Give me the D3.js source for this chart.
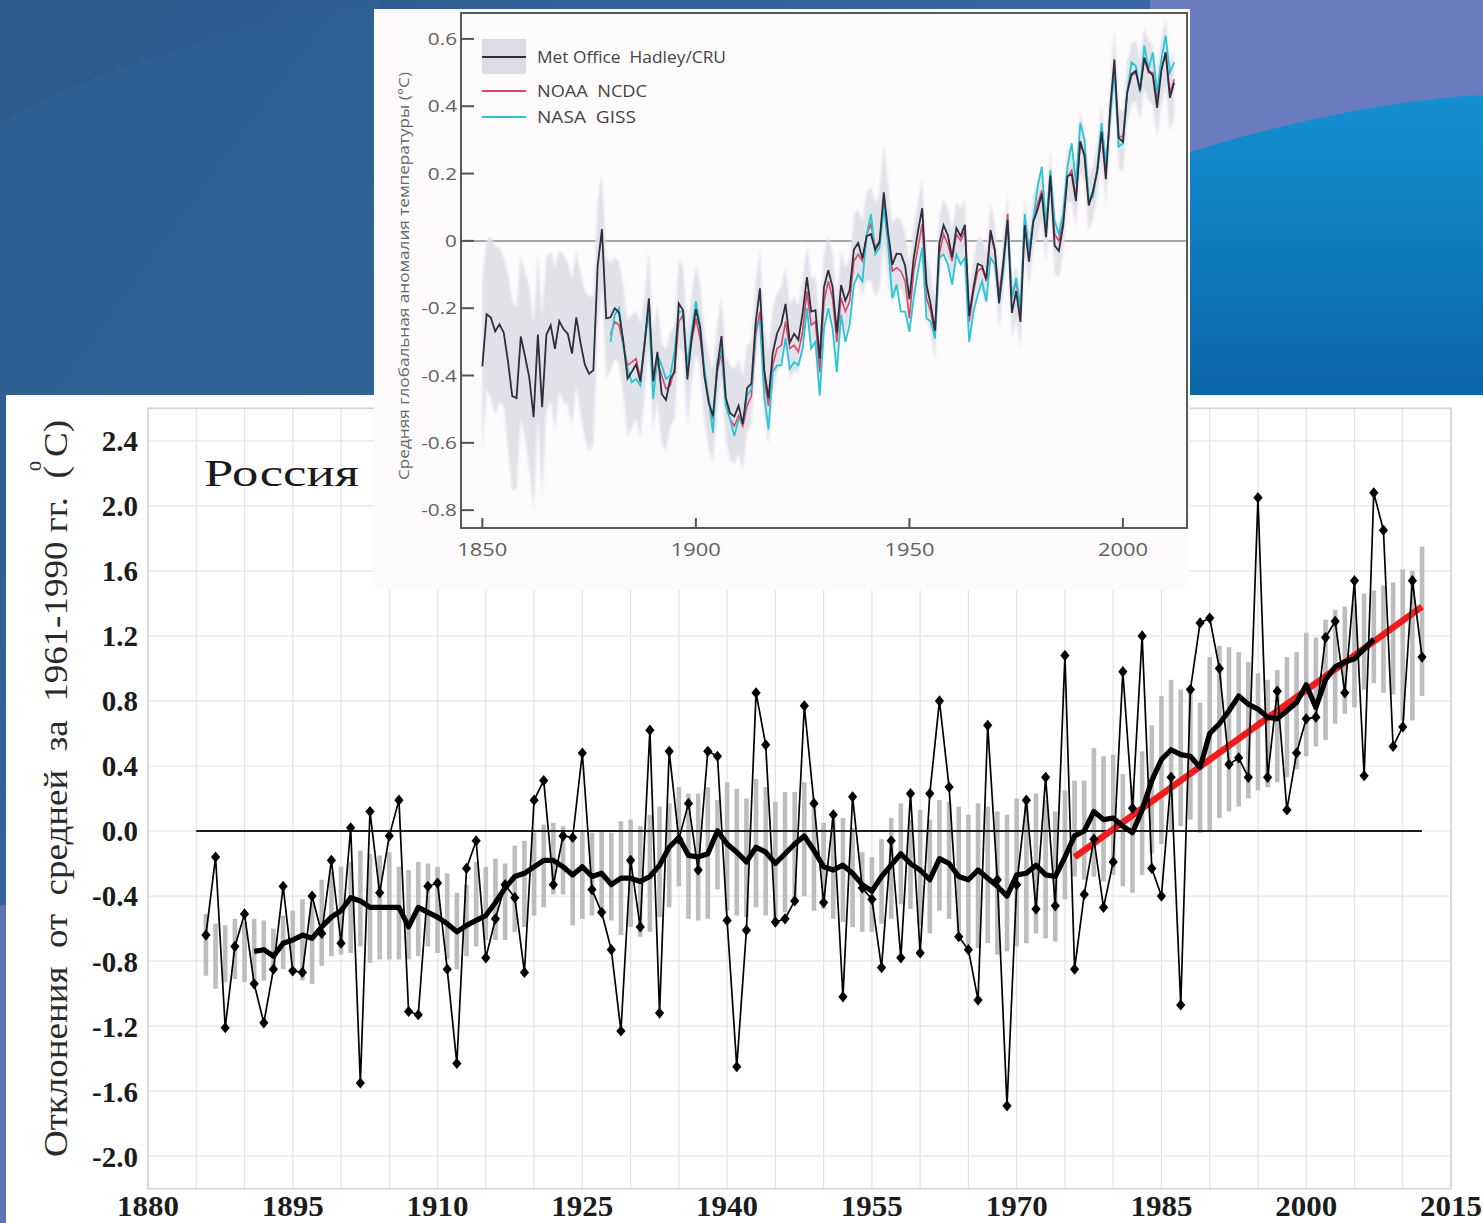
<!DOCTYPE html>
<html><head><meta charset="utf-8">
<script src="https://cdn.jsdelivr.net/npm/d3@7"></script>
<style>body{margin:0;background:#2f5f90;} svg{display:block}</style>
</head><body>
<svg id="chart" width="1483" height="1223"></svg>
<script>
// ---------------- DATA: Russia (main chart) ----------------
const ruStartYear = 1886;
const ruAnnual = [
  -0.64, -0.16, -1.21, -0.71,
  -0.51, -0.94, -1.18, -0.85, -0.34, -0.86, -0.87, -0.40, -0.63, -0.18,
  -0.69, 0.02, -1.55, 0.12, -0.38, -0.03, 0.19, -1.11, -1.13, -0.34,
  -0.32, -0.85, -1.43, -0.23, -0.06, -0.78, -0.54, -0.33, -0.41, -0.87,
  0.19, 0.31, -0.33, -0.03, -0.04, 0.48, -0.36, -0.50, -0.73, -1.23,
  -0.18, -0.59, 0.62, -1.12, 0.49, -0.05, 0.17, -0.24, 0.49, 0.46,
  -0.55, -1.45, -0.61, 0.85, 0.53, -0.56, -0.54, -0.43, 0.77, 0.17,
  -0.44, 0.10, -1.02, 0.21, -0.35, -0.42, -0.84, -0.06, -0.78, 0.23,
  -0.75, 0.23, 0.80, 0.27, -0.65, -0.73, -1.04, 0.65, -0.30, -1.69,
  -0.33, 0.19, -0.48, 0.33, -0.46, 1.08, -0.85, -0.39, -0.05, -0.47,
  -0.19, 0.98, 0.14, 1.20, -0.23, -0.40, 0.33, -1.07, 0.87, 1.28,
  1.31, 1.00, 0.41, 0.45, 0.33, 2.05, 0.33, 0.86, 0.13, 0.48,
  0.69, 0.70, 1.19, 1.29, 0.85, 1.54, 0.34, 2.08, 1.85, 0.52,
  0.64, 1.54, 1.07
];
const ruMeanStart = 1891;
const ruMean = [
  -0.74, -0.73, -0.77, -0.69, -0.67, -0.64, -0.66, -0.59, -0.53,
  -0.49, -0.41, -0.43, -0.47, -0.47, -0.47, -0.47, -0.59, -0.47, -0.50,
  -0.53, -0.57, -0.62, -0.58, -0.55, -0.52, -0.44, -0.35, -0.28, -0.26,
  -0.22, -0.18, -0.18, -0.22, -0.27, -0.22, -0.28, -0.26, -0.33, -0.29,
  -0.29, -0.31, -0.28, -0.21, -0.10, -0.04, -0.15, -0.16, -0.14, 0.00,
  -0.08, -0.13, -0.19, -0.10, -0.13, -0.20, -0.14, -0.08, -0.03, -0.12,
  -0.22, -0.24, -0.21, -0.26, -0.33, -0.37, -0.28, -0.21, -0.14, -0.20,
  -0.24, -0.30, -0.17, -0.20, -0.28, -0.30, -0.24, -0.29, -0.34, -0.40,
  -0.27, -0.26, -0.21, -0.27, -0.28, -0.16, -0.03, 0.00, 0.12, 0.07,
  0.08, 0.03, -0.01, 0.13, 0.31, 0.44, 0.50, 0.47, 0.46, 0.39,
  0.60, 0.66, 0.74, 0.83, 0.78, 0.75, 0.70, 0.69, 0.74, 0.79,
  0.90, 0.76, 0.93, 1.01, 1.04, 1.06, 1.12, 1.18
];
const ruBandTop = [
  -0.51, -0.57, -0.58, -0.54,
  -0.56, -0.54, -0.55, -0.60, -0.52, -0.49, -0.42, -0.44, -0.30, -0.25,
  -0.22, -0.19, -0.12, -0.14, -0.15, -0.13, -0.22, -0.24, -0.19, -0.20,
  -0.22, -0.26, -0.38, -0.33, -0.19, -0.22, -0.17, -0.20, -0.09, -0.06,
  -0.01, 0.04, 0.05, 0.03, -0.05, 0.00, -0.01, 0.00, -0.01, 0.06,
  0.07, 0.03, 0.10, 0.15, 0.17, 0.27, 0.23, 0.23, 0.27, 0.19,
  0.30, 0.26, 0.20, 0.32, 0.27, 0.18, 0.24, 0.24, 0.30, 0.19,
  0.05, 0.07, 0.08, 0.02, -0.13, -0.16, -0.05, 0.08, 0.17, 0.07,
  0.13, 0.07, 0.19, 0.18, 0.15, 0.10, 0.17, 0.15, 0.12, 0.10,
  0.20, 0.21, 0.23, 0.19, 0.12, 0.25, 0.31, 0.31, 0.51, 0.46,
  0.47, 0.35, 0.28, 0.49, 0.65, 0.83, 0.93, 0.87, 0.89, 0.79,
  1.07, 1.14, 1.13, 1.10, 1.04, 0.97, 0.93, 0.99, 1.07, 1.10,
  1.22, 1.19, 1.30, 1.36, 1.38, 1.40, 1.46, 1.48, 1.51, 1.53,
  1.61, 1.60, 1.75
];
const ruBandBottom = [
  -0.89, -0.97, -0.93, -0.91,
  -0.93, -0.93, -0.92, -0.87, -0.85, -0.83, -0.92, -0.94, -0.83, -0.77,
  -0.76, -0.75, -0.71, -0.81, -0.79, -0.79, -0.79, -0.79, -0.77, -0.71,
  -0.75, -0.79, -0.85, -0.77, -0.71, -0.67, -0.67, -0.67, -0.62, -0.59,
  -0.52, -0.47, -0.39, -0.39, -0.58, -0.54, -0.52, -0.52, -0.55, -0.64,
  -0.59, -0.65, -0.62, -0.53, -0.47, -0.34, -0.54, -0.55, -0.54, -0.36,
  -0.49, -0.52, -0.53, -0.47, -0.52, -0.55, -0.50, -0.44, -0.40, -0.49,
  -0.48, -0.54, -0.56, -0.59, -0.62, -0.62, -0.57, -0.54, -0.45, -0.48,
  -0.58, -0.63, -0.49, -0.54, -0.62, -0.70, -0.72, -0.69, -0.76, -0.74,
  -0.71, -0.69, -0.63, -0.66, -0.68, -0.42, -0.28, -0.30, -0.28, -0.31,
  -0.27, -0.34, -0.38, -0.27, -0.14, -0.08, 0.00, 0.03, 0.07, -0.01,
  0.00, 0.08, 0.12, 0.15, 0.20, 0.25, 0.27, 0.30, 0.33, 0.38,
  0.46, 0.52, 0.56, 0.66, 0.72, 0.76, 0.87, 0.91, 0.85, 0.84,
  0.68, 0.68, 0.83
];
const ruTrendYears = [1976, 2012];
const ruTrendValues = [-0.16, 1.38];
const ruZeroLineYears = [1885, 2012];
const ruYTicks = [-2.0, -1.6, -1.2, -0.8, -0.4, 0.0, 0.4, 0.8, 1.2, 1.6, 2.0, 2.4];
const ruXTicks = [1880, 1895, 1910, 1925, 1940, 1955, 1970, 1985, 2000, 2015];
const ruTitle = "Россия";
const ruYLabel = "Отклонения  от  средней  за  1961-1990 гг.  ( C)";

// ---------------- DATA: global inset ----------------
const hadStartYear = 1850;
const hadcrut = [
  -0.373, -0.218, -0.228, -0.269, -0.248, -0.272, -0.358, -0.461, -0.467, -0.284,
  -0.343, -0.407, -0.524, -0.278, -0.494, -0.279, -0.251, -0.321, -0.238, -0.262,
  -0.276, -0.335, -0.227, -0.304, -0.368, -0.395, -0.384, -0.075, 0.035, -0.230,
  -0.227, -0.200, -0.213, -0.296, -0.409, -0.389, -0.367, -0.418, -0.307, -0.171,
  -0.416, -0.330, -0.455, -0.473, -0.410, -0.390, -0.186, -0.206, -0.412, -0.289,
  -0.203, -0.259, -0.402, -0.479, -0.520, -0.377, -0.283, -0.465, -0.511, -0.522,
  -0.490, -0.544, -0.437, -0.424, -0.244, -0.141, -0.383, -0.468, -0.333, -0.275,
  -0.247, -0.187, -0.302, -0.276, -0.294, -0.215, -0.108, -0.210, -0.206, -0.350,
  -0.137, -0.087, -0.137, -0.273, -0.131, -0.178, -0.147, -0.026, -0.006, -0.052,
  0.014, 0.020, -0.027, -0.004, 0.144, 0.025, -0.071, -0.038, -0.039, -0.074,
  -0.173, -0.052, 0.028, 0.097, -0.129, -0.190, -0.267, -0.007, 0.046, 0.017,
  -0.049, 0.038, 0.014, 0.048, -0.223, -0.140, -0.068, -0.074, -0.113, 0.032,
  -0.027, -0.186, -0.065, 0.062, -0.214, -0.149, -0.241, 0.047, -0.062, 0.057,
  0.092, 0.140, 0.011, 0.194, -0.014, -0.030, 0.045, 0.192, 0.198, 0.118,
  0.296, 0.254, 0.105, 0.148, 0.208, 0.325, 0.183, 0.390, 0.539, 0.306,
  0.294, 0.441, 0.496, 0.505, 0.447, 0.545, 0.506, 0.491, 0.395, 0.506,
  0.560, 0.425, 0.470
];
const hadUnc = [
  0.26, 0.22, 0.24, 0.25, 0.23, 0.22, 0.26, 0.28, 0.27, 0.24,
  0.25, 0.27, 0.28, 0.24, 0.27, 0.23, 0.22, 0.24, 0.21, 0.22,
  0.21, 0.22, 0.20, 0.21, 0.22, 0.23, 0.22, 0.19, 0.17, 0.18,
  0.16, 0.15, 0.15, 0.16, 0.17, 0.17, 0.16, 0.17, 0.15, 0.14,
  0.15, 0.14, 0.15, 0.15, 0.14, 0.14, 0.13, 0.13, 0.14, 0.13,
  0.13, 0.13, 0.13, 0.14, 0.14, 0.13, 0.12, 0.13, 0.14, 0.14,
  0.14, 0.14, 0.13, 0.12, 0.12, 0.12, 0.13, 0.14, 0.13, 0.12,
  0.11, 0.11, 0.11, 0.11, 0.10, 0.10, 0.10, 0.10, 0.10, 0.11,
  0.10, 0.10, 0.10, 0.10, 0.10, 0.10, 0.09, 0.10, 0.10, 0.11,
  0.13, 0.14, 0.14, 0.14, 0.15, 0.14, 0.12, 0.11, 0.10, 0.10,
  0.10, 0.09, 0.09, 0.09, 0.09, 0.09, 0.09, 0.08, 0.08, 0.08,
  0.08, 0.08, 0.08, 0.08, 0.08, 0.08, 0.08, 0.08, 0.08, 0.08,
  0.08, 0.08, 0.08, 0.08, 0.08, 0.08, 0.08, 0.08, 0.08, 0.08,
  0.08, 0.08, 0.08, 0.08, 0.08, 0.08, 0.08, 0.08, 0.08, 0.08,
  0.09, 0.08, 0.08, 0.08, 0.08, 0.08, 0.08, 0.08, 0.09, 0.09,
  0.09, 0.09, 0.09, 0.09, 0.09, 0.09, 0.09, 0.09, 0.09, 0.10,
  0.10, 0.10, 0.10
];
const usStartYear = 1880;
const noaa = [
  -0.28, -0.24, -0.25, -0.31, -0.37, -0.36, -0.35, -0.41, -0.30, -0.19,
  -0.42, -0.36, -0.40, -0.44, -0.43, -0.38, -0.24, -0.22, -0.39, -0.30,
  -0.23, -0.29, -0.39, -0.48, -0.53, -0.39, -0.33, -0.48, -0.53, -0.55,
  -0.52, -0.55, -0.49, -0.46, -0.28, -0.21, -0.41, -0.49, -0.37, -0.32,
  -0.31, -0.24, -0.32, -0.31, -0.33, -0.27, -0.15, -0.25, -0.24, -0.39,
  -0.18, -0.12, -0.17, -0.30, -0.17, -0.21, -0.18, -0.06, -0.04, -0.06,
  0.02, 0.05, -0.02, 0.00, 0.11, 0.00, -0.09, -0.08, -0.09, -0.12,
  -0.23, -0.09, -0.02, 0.05, -0.17, -0.21, -0.28, -0.04, 0.02, -0.01,
  -0.06, 0.02, 0.00, 0.03, -0.24, -0.15, -0.09, -0.08, -0.12, 0.02,
  -0.03, -0.16, -0.06, 0.08, -0.17, -0.12, -0.21, 0.06, -0.03, 0.06,
  0.11, 0.15, 0.04, 0.20, 0.02, 0.00, 0.06, 0.19, 0.21, 0.13,
  0.29, 0.25, 0.11, 0.15, 0.21, 0.32, 0.20, 0.38, 0.52, 0.31,
  0.31, 0.44, 0.49, 0.50, 0.45, 0.54, 0.50, 0.50, 0.42, 0.51,
  0.56, 0.44, 0.48
];
const nasa = [
  -0.30, -0.22, -0.20, -0.31, -0.38, -0.42, -0.41, -0.43, -0.30, -0.21,
  -0.47, -0.34, -0.37, -0.41, -0.40, -0.33, -0.21, -0.21, -0.37, -0.27,
  -0.18, -0.25, -0.38, -0.47, -0.57, -0.36, -0.32, -0.49, -0.53, -0.58,
  -0.53, -0.54, -0.46, -0.44, -0.25, -0.24, -0.46, -0.56, -0.39, -0.37,
  -0.37, -0.29, -0.38, -0.36, -0.37, -0.32, -0.20, -0.32, -0.30, -0.46,
  -0.26, -0.20, -0.26, -0.39, -0.22, -0.30, -0.25, -0.13, -0.10, -0.12,
  0.02, 0.08, -0.04, -0.02, 0.10, -0.01, -0.17, -0.13, -0.21, -0.21,
  -0.27, -0.17, -0.09, -0.02, -0.23, -0.24, -0.29, -0.05, -0.04, -0.07,
  -0.13, -0.04, -0.07, -0.05, -0.30, -0.21, -0.16, -0.12, -0.18, -0.05,
  -0.07, -0.18, -0.09, 0.06, -0.17, -0.11, -0.20, 0.08, -0.03, 0.06,
  0.16, 0.22, 0.04, 0.21, 0.06, 0.02, 0.08, 0.22, 0.29, 0.17,
  0.35, 0.30, 0.12, 0.13, 0.22, 0.35, 0.23, 0.36, 0.51, 0.28,
  0.29, 0.44, 0.53, 0.52, 0.44, 0.58, 0.51, 0.56, 0.44, 0.54,
  0.61, 0.50, 0.53
];
const gYTicks = [-0.8, -0.6, -0.4, -0.2, 0, 0.2, 0.4, 0.6];
const gXTicks = [1850, 1900, 1950, 2000];
const gYLabel = "Средняя глобальная аномалия температуры (°С)";
const gLegend = ["Met Office  Hadley/CRU", "NOAA  NCDC", "NASA  GISS"];

// ---------------- DRAWING ----------------
const W = 1483, H = 1223;
const svg = d3.select("#chart");
const defs = svg.append("defs");

// slide background
const bgG = defs.append("linearGradient").attr("id", "bgGrad")
  .attr("x1", "0").attr("y1", "0").attr("x2", "1").attr("y2", "0.6");
bgG.append("stop").attr("offset", "0").attr("stop-color", "#2c5a8a");
bgG.append("stop").attr("offset", "0.35").attr("stop-color", "#33639a");
bgG.append("stop").attr("offset", "1").attr("stop-color", "#4d6aae");
svg.append("rect").attr("width", W).attr("height", H).attr("fill", "url(#bgGrad)");
svg.append("path").attr("d", "M0,120 C120,60 260,20 380,0 L380,395 L0,395 Z")
  .attr("fill", "#2f6294").attr("opacity", 0.6);
svg.append("rect").attr("x", 1150).attr("y", 0).attr("width", 333).attr("height", 400).attr("fill", "#6a7cbf");
const wG = defs.append("linearGradient").attr("id", "waveGrad")
  .attr("x1", "0").attr("y1", "0").attr("x2", "0").attr("y2", "1");
wG.append("stop").attr("offset", "0").attr("stop-color", "#1590d2");
wG.append("stop").attr("offset", "1").attr("stop-color", "#0a66a6");
svg.append("path").attr("d", "M1150,165 C1260,128 1380,100 1483,95 L1483,400 L1150,400 Z")
  .attr("fill", "url(#waveGrad)");
svg.append("rect").attr("x", 0).attr("y", 905).attr("width", 8).attr("height", 318).attr("fill", "#5f70b4");

// ---------- main chart (Russia) ----------
svg.append("rect").attr("x", 6).attr("y", 395).attr("width", W - 6).attr("height", H - 395).attr("fill", "#ffffff");

const x = d3.scaleLinear().domain([1880, 2015]).range([148, 1451]);
const y = d3.scaleLinear().domain([-2.2, 2.6]).range([1188.7, 408.3]);

const main = svg.append("g");
// grid
main.append("g").selectAll("line").data(d3.range(1880, 2016, 5)).join("line")
  .attr("x1", d => x(d)).attr("x2", d => x(d)).attr("y1", y(2.6)).attr("y2", y(-2.2))
  .attr("stroke", "#e3e3e3").attr("stroke-width", 1.2);
main.append("g").selectAll("line").data(ruYTicks).join("line")
  .attr("x1", x(1880)).attr("x2", x(2015)).attr("y1", d => y(d)).attr("y2", d => y(d))
  .attr("stroke", "#e6e6e6").attr("stroke-width", 1.2);
main.append("rect").attr("x", x(1880)).attr("y", y(2.6)).attr("width", x(2015) - x(1880))
  .attr("height", y(-2.2) - y(2.6)).attr("fill", "none").attr("stroke", "#d4d4d4").attr("stroke-width", 1.6);

// gray range bars
const bars = ruBandTop.map((t, i) => ({ year: ruStartYear + i, top: t, bottom: ruBandBottom[i] }));
main.append("g").selectAll("rect").data(bars).join("rect")
  .attr("x", d => x(d.year) - 2.3).attr("width", 4.6)
  .attr("y", d => y(d.top)).attr("height", d => y(d.bottom) - y(d.top))
  .attr("fill", "#bdbdbd");

// zero line
main.append("line").attr("x1", x(ruZeroLineYears[0])).attr("x2", x(ruZeroLineYears[1]))
  .attr("y1", y(0)).attr("y2", y(0)).attr("stroke", "#1e1e1e").attr("stroke-width", 1.8);

// red trend
main.append("line").attr("x1", x(ruTrendYears[0])).attr("y1", y(ruTrendValues[0]))
  .attr("x2", x(ruTrendYears[1])).attr("y2", y(ruTrendValues[1]))
  .attr("stroke", "#f01c1c").attr("stroke-width", 6.5);

// annual series
const annual = ruAnnual.map((v, i) => ({ year: ruStartYear + i, v }));
const line = d3.line().x(d => x(d.year)).y(d => y(d.v));
main.append("path").datum(annual).attr("d", line).attr("fill", "none")
  .attr("stroke", "#000").attr("stroke-width", 1.7).attr("stroke-linejoin", "round");
const diamond = { draw(ctx, size) { const w = 4.6, h = 5.6; ctx.moveTo(0, -h); ctx.lineTo(w, 0); ctx.lineTo(0, h); ctx.lineTo(-w, 0); ctx.closePath(); } };
main.append("g").selectAll("path").data(annual).join("path")
  .attr("d", d3.symbol().type(diamond))
  .attr("transform", d => `translate(${x(d.year)},${y(d.v)})`).attr("fill", "#000");

// running mean
const mean = ruMean.map((v, i) => ({ year: ruMeanStart + i, v }));
main.append("path").datum(mean).attr("d", line).attr("fill", "none")
  .attr("stroke", "#000").attr("stroke-width", 5.2).attr("stroke-linejoin", "round");

// axes labels
const serif = "'Liberation Serif','DejaVu Serif',serif";
main.append("g").selectAll("text").data(ruYTicks).join("text")
  .attr("x", 138).attr("y", d => y(d)).attr("dy", "0.36em").attr("text-anchor", "end")
  .attr("font-family", serif).attr("font-weight", "bold").attr("font-size", 29).attr("fill", "#1c1c1c")
  .text(d => d.toFixed(1));
main.append("g").selectAll("text").data(ruXTicks).join("text")
  .attr("x", d => x(d)).attr("y", 1216).attr("text-anchor", "middle")
  .attr("font-family", serif).attr("font-weight", "bold").attr("font-size", 29).attr("fill", "#1c1c1c")
  .attr("textLength", 62).attr("lengthAdjust", "spacingAndGlyphs")
  .text(d => d);

main.append("text").attr("x", 204).attr("y", 486).attr("font-family", serif).attr("font-size", 38)
  .attr("fill", "#1a1a1a").attr("textLength", 155).attr("lengthAdjust", "spacingAndGlyphs").text(ruTitle);

main.append("text").attr("transform", "translate(67,1157) scale(1.25,1) rotate(-90)")
  .attr("font-family", serif).attr("font-size", 27).attr("fill", "#2a2a2a")
  .style("white-space", "pre").attr("textLength", 737).attr("lengthAdjust", "spacingAndGlyphs")
  .text(ruYLabel);
main.append("text").attr("transform", "translate(41,471) scale(1.2,1) rotate(-90)")
  .attr("font-family", serif).attr("font-size", 20).attr("fill", "#2a2a2a").text("o");

// ---------- inset (global) ----------
svg.append("rect").attr("x", 374).attr("y", 9).attr("width", 816).attr("height", 581).attr("fill", "#fdfbfc");

const gx = d3.scaleLinear().domain([1845, 2015]).range([461, 1187]);
const gy = d3.scaleLinear().domain([-0.853, 0.677]).range([528, 13]);
const ins = svg.append("g");
const sans = "'Open Sans','Lato','DejaVu Sans',sans-serif";

defs.append("filter").attr("id", "soft").append("feGaussianBlur").attr("stdDeviation", 1.2);

// zero line
ins.append("line").attr("x1", gx(1845)).attr("x2", gx(2015)).attr("y1", gy(0)).attr("y2", gy(0))
  .attr("stroke", "#8a8a8a").attr("stroke-width", 1.5);

const had = hadcrut.map((v, i) => ({ year: hadStartYear + i, v, u: hadUnc[i] }));
ins.append("path").datum(had)
  .attr("d", d3.area().x(d => gx(d.year)).y0(d => gy(d.v - d.u)).y1(d => gy(d.v + d.u)))
  .attr("fill", "#e1e1e8").attr("filter", "url(#soft)");

const gline = d3.line().x(d => gx(d.year)).y(d => gy(d.v));
const noaaD = noaa.map((v, i) => ({ year: usStartYear + i, v }));
const nasaD = nasa.map((v, i) => ({ year: usStartYear + i, v }));
ins.append("path").datum(noaaD).attr("d", gline).attr("fill", "none")
  .attr("stroke", "#d9486a").attr("stroke-width", 1.6);
ins.append("path").datum(nasaD).attr("d", gline).attr("fill", "none")
  .attr("stroke", "#26c6d6").attr("stroke-width", 1.8);
ins.append("path").datum(had).attr("d", gline).attr("fill", "none")
  .attr("stroke", "#2d2d3c").attr("stroke-width", 1.8);

// frame
ins.append("rect").attr("x", 461).attr("y", 13).attr("width", 1187 - 461).attr("height", 528 - 13)
  .attr("fill", "none").attr("stroke", "#595959").attr("stroke-width", 2);
// ticks
ins.append("g").selectAll("line").data(gYTicks).join("line")
  .attr("x1", 461).attr("x2", 474).attr("y1", d => gy(d)).attr("y2", d => gy(d))
  .attr("stroke", "#555").attr("stroke-width", 2);
ins.append("g").selectAll("line").data(gXTicks).join("line")
  .attr("x1", d => gx(d)).attr("x2", d => gx(d)).attr("y1", 528).attr("y2", 518)
  .attr("stroke", "#555").attr("stroke-width", 2);
ins.append("g").selectAll("text").data(gYTicks).join("text")
  .attr("x", 457).attr("y", d => gy(d)).attr("dy", "0.36em").attr("text-anchor", "end")
  .attr("font-family", sans).attr("font-size", 17).attr("fill", "#606060")
  .text(d => d === 0 ? "0" : d.toFixed(1))
  .each(function () { const L = this.getComputedTextLength(); d3.select(this).attr("textLength", L * 1.22).attr("lengthAdjust", "spacingAndGlyphs"); });
ins.append("g").selectAll("text").data(gXTicks).join("text")
  .attr("x", d => gx(d)).attr("y", 556).attr("text-anchor", "middle")
  .attr("font-family", sans).attr("font-size", 19).attr("fill", "#606060")
  .attr("textLength", 50).attr("lengthAdjust", "spacingAndGlyphs").text(d => d);

ins.append("text").attr("transform", "translate(409,480) rotate(-90)")
  .attr("font-family", sans).attr("font-size", 14).attr("fill", "#666")
  .attr("textLength", 408).attr("lengthAdjust", "spacingAndGlyphs").text(gYLabel);

// legend
const lg = ins.append("g");
lg.append("rect").attr("x", 482).attr("y", 39).attr("width", 44).attr("height", 35).attr("fill", "#dcdce4");
const legendItems = [
  { label: gLegend[0], color: "#2d2d3c", y: 57, len: 189 },
  { label: gLegend[1], color: "#d9486a", y: 91, len: 110 },
  { label: gLegend[2], color: "#26c6d6", y: 117, len: 99 }
];
lg.selectAll("line").data(legendItems).join("line")
  .attr("x1", 482).attr("x2", 526).attr("y1", d => d.y).attr("y2", d => d.y)
  .attr("stroke", d => d.color).attr("stroke-width", 1.8);
lg.selectAll("text").data(legendItems).join("text")
  .attr("x", 537).attr("y", d => d.y).attr("dy", "0.36em")
  .attr("font-family", sans).attr("font-size", 16).attr("fill", "#444")
  .style("white-space", "pre").attr("textLength", d => d.len).attr("lengthAdjust", "spacingAndGlyphs")
  .text(d => d.label);
</script>
</body></html>
